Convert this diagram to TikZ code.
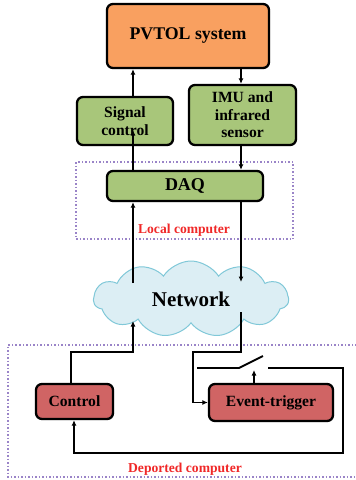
\documentclass[tikz,border=0pt]{standalone}
\usepackage{fontspec}
\setmainfont{Liberation Serif}
\usetikzlibrary{shapes.symbols,shadows,arrows.meta}
\definecolor{pvorange}{HTML}{F9A060}
\definecolor{boxgreen}{HTML}{A8C67A}
\definecolor{boxred}{HTML}{D06464}
\definecolor{cloudfill}{HTML}{DCEEF4}
\definecolor{cloudline}{HTML}{80C8D8}
\definecolor{zoneline}{HTML}{9A84C8}
\definecolor{zonetext}{HTML}{F02828}
\tikzset{
  blockbox/.style={draw=black, line width=2.3pt, rounded corners=6pt, inner sep=0pt,
    align=center, drop shadow={shadow xshift=1pt, shadow yshift=-1.2pt, opacity=0.25}},
  link/.style={line width=1.8pt, -{Latex[length=5.5pt,width=5pt]}},
  wire/.style={line width=1.8pt},
  zone/.style={draw=zoneline, line width=1.5pt, dotted},
  zonelabel/.style={text=zonetext, font=\fontsize{13.6}{15}\selectfont\bfseries},
  lbl/.style={font=\fontsize{15.6}{17.5}\selectfont\bfseries}
}
\begin{document}
\begin{tikzpicture}[x=1pt,y=-1pt]
\useasboundingbox (0,0) rectangle (356,480);

% computer zones
\draw[zone] (76,162) rectangle (293,239);
\draw[zone] (360,345) -- (8,345) -- (8,477) -- (360,477);
\node[zonelabel] (loclbl) at (184,230) {Local computer};
\node[zonelabel] (deplbl) at (185,469) {Deported computer};

% blocks
\node[blockbox, fill=pvorange, minimum width=162pt, minimum height=64pt,
      font=\fontsize{17.8}{20}\selectfont\bfseries] (pvtol) at (188,36) {PVTOL system};
\node[blockbox, fill=boxgreen, minimum width=96pt, minimum height=48pt, lbl] (sig) at (125,121) {Signal\\control};
\node[blockbox, fill=boxgreen, minimum width=107pt, minimum height=60pt, lbl] (imu) at (242.5,115) {IMU and\\infrared\\sensor};
\node[blockbox, fill=boxgreen, minimum width=156pt, minimum height=30pt,
      font=\fontsize{18}{20}\selectfont\bfseries] (daq) at (185,186) {DAQ};
\node[cloud, cloud puffs=11, cloud puff arc=115, aspect=2.6, draw=cloudline, fill=cloudfill,
      line width=1pt, minimum width=195pt, minimum height=76pt, inner sep=0pt,
      font=\fontsize{21}{23}\selectfont\bfseries] (net) at (191,299) {Network};
\node[blockbox, fill=boxred, minimum width=77pt, minimum height=35pt, lbl] (ctrl) at (74.5,401.5) {Control};
\node[blockbox, fill=boxred, minimum width=124pt, minimum height=37pt, lbl] (evt) at (271,402.5) {Event-trigger};

% vertical lanes
\coordinate (xl) at (133,0);
\coordinate (xr) at (241,0);
\coordinate (netin) at (241,282);
\coordinate (netout) at (133,283);
\coordinate (netup) at (133,321);
\coordinate (netdown) at (241,312);
\coordinate (sigtip) at (133,130);

% local side
\draw[link] (xl |- sig.north) -- (xl |- pvtol.south);
\draw[link] (xr |- pvtol.south) -- (xr |- imu.north);
\draw[link] (xl |- daq.north) -- (sigtip);
\draw[link] (xr |- imu.south) -- (xr |- daq.north);
\draw[link] (xr |- daq.south) -- (netin);
\draw[link] (netout) -- (xl |- daq.south);

% deported side
\coordinate (cup) at (71,352);
\draw[link] (cup |- ctrl.north) -- (cup) -- (133,352) -- (netup);
\coordinate (edown) at (193,352);
\draw[link] (netdown) -- (241,352) -- (edown) -- (edown |- evt.west) -- (evt.west);

% switch
\coordinate (swa) at (197,368);
\coordinate (swb) at (239,368);
\coordinate (swc) at (263,356);
\coordinate (swd) at (268,368);
\draw[wire] (swa) -- (swb) -- (swc);
\coordinate (fb) at (74,453);
\draw[link] (swd) -- (343,368) -- (343,453) -- (fb) -- (fb |- ctrl.south);
\coordinate (trig) at (254,370);
\draw[link] (trig |- evt.north) -- (trig);
\end{tikzpicture}
\end{document}
